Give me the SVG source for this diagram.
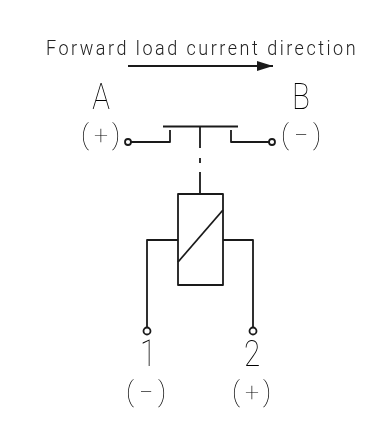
<svg xmlns="http://www.w3.org/2000/svg" width="383" height="427" viewBox="0 0 383 427">
<style>
.w{fill:#fff}
.l{fill:none;stroke:#1a1a1a;stroke-width:1.800;stroke-linejoin:round}
.t{fill:none;stroke:#1a1a1a;stroke-width:1.800}
text{font-family:"Roboto","Liberation Sans",sans-serif;font-weight:300;fill:#222;filter:url(#gray)}
.big{font-size:37px;text-anchor:middle;font-weight:100;fill:#000}
.par{font-size:27px;text-anchor:middle;font-weight:100;fill:#000}
.sym{font-size:25px}
</style>
<rect class="w" width="383" height="427"/>
<defs>
<filter id="gray" x="-10%" y="-50%" width="120%" height="200%" color-interpolation-filters="sRGB"><feOffset dx="0" dy="0"/></filter>
<marker id="ah" markerUnits="userSpaceOnUse" markerWidth="17" markerHeight="10" refX="16" refY="5" orient="auto"><path d="M0 0 L16 5 L0 10 Z" fill="#1a1a1a"/></marker></defs>
<g id="connectors">
<path class="l" d="M128 66H273" marker-end="url(#ah)"/>
<path class="l" d="M131 142H170V130"/>
<path class="l" d="M231 130V142H269"/>
<path class="l" d="M163 126.500H238"/>
<path class="l" d="M200 127V148M200 158V163M200 172V194"/>
<path class="l" d="M178 240H147V327"/>
<path class="l" d="M223 240H253V327"/>
</g>
<g id="label-forward"><text transform="translate(46 55) scale(.9 1)" font-size="20" textLength="344" lengthAdjust="spacing">Forward load current direction</text></g>
<g id="node-A"><text class="big" transform="translate(101 109) scale(.8 1)">A</text><text class="par" y="144"><tspan x="85">(</tspan><tspan class="sym" x="101">+</tspan><tspan x="116">)</tspan></text><circle class="t" cx="128" cy="142" r="3"/></g>
<g id="node-B"><text class="big" transform="translate(301 109) scale(.8 1)">B</text><text class="par" y="144"><tspan x="285">(</tspan><tspan class="sym" x="301">−</tspan><tspan x="317">)</tspan></text><circle class="t" cx="272" cy="142" r="3"/></g>
<g id="node-coil"><rect class="l" x="178" y="194" width="45" height="91"/><path class="l" d="M178 262L223 210"/></g>
<g id="node-1"><circle class="t" cx="147" cy="331" r="3.500"/><text class="big" transform="translate(148 366) scale(.8 1)">1</text><text class="par" y="401"><tspan x="130">(</tspan><tspan class="sym" x="146">−</tspan><tspan x="162">)</tspan></text></g>
<g id="node-2"><circle class="t" cx="253" cy="331" r="3.500"/><text class="big" transform="translate(252 366) scale(.8 1)">2</text><text class="par" y="401"><tspan x="236">(</tspan><tspan class="sym" x="252">+</tspan><tspan x="267">)</tspan></text></g>
</svg>
